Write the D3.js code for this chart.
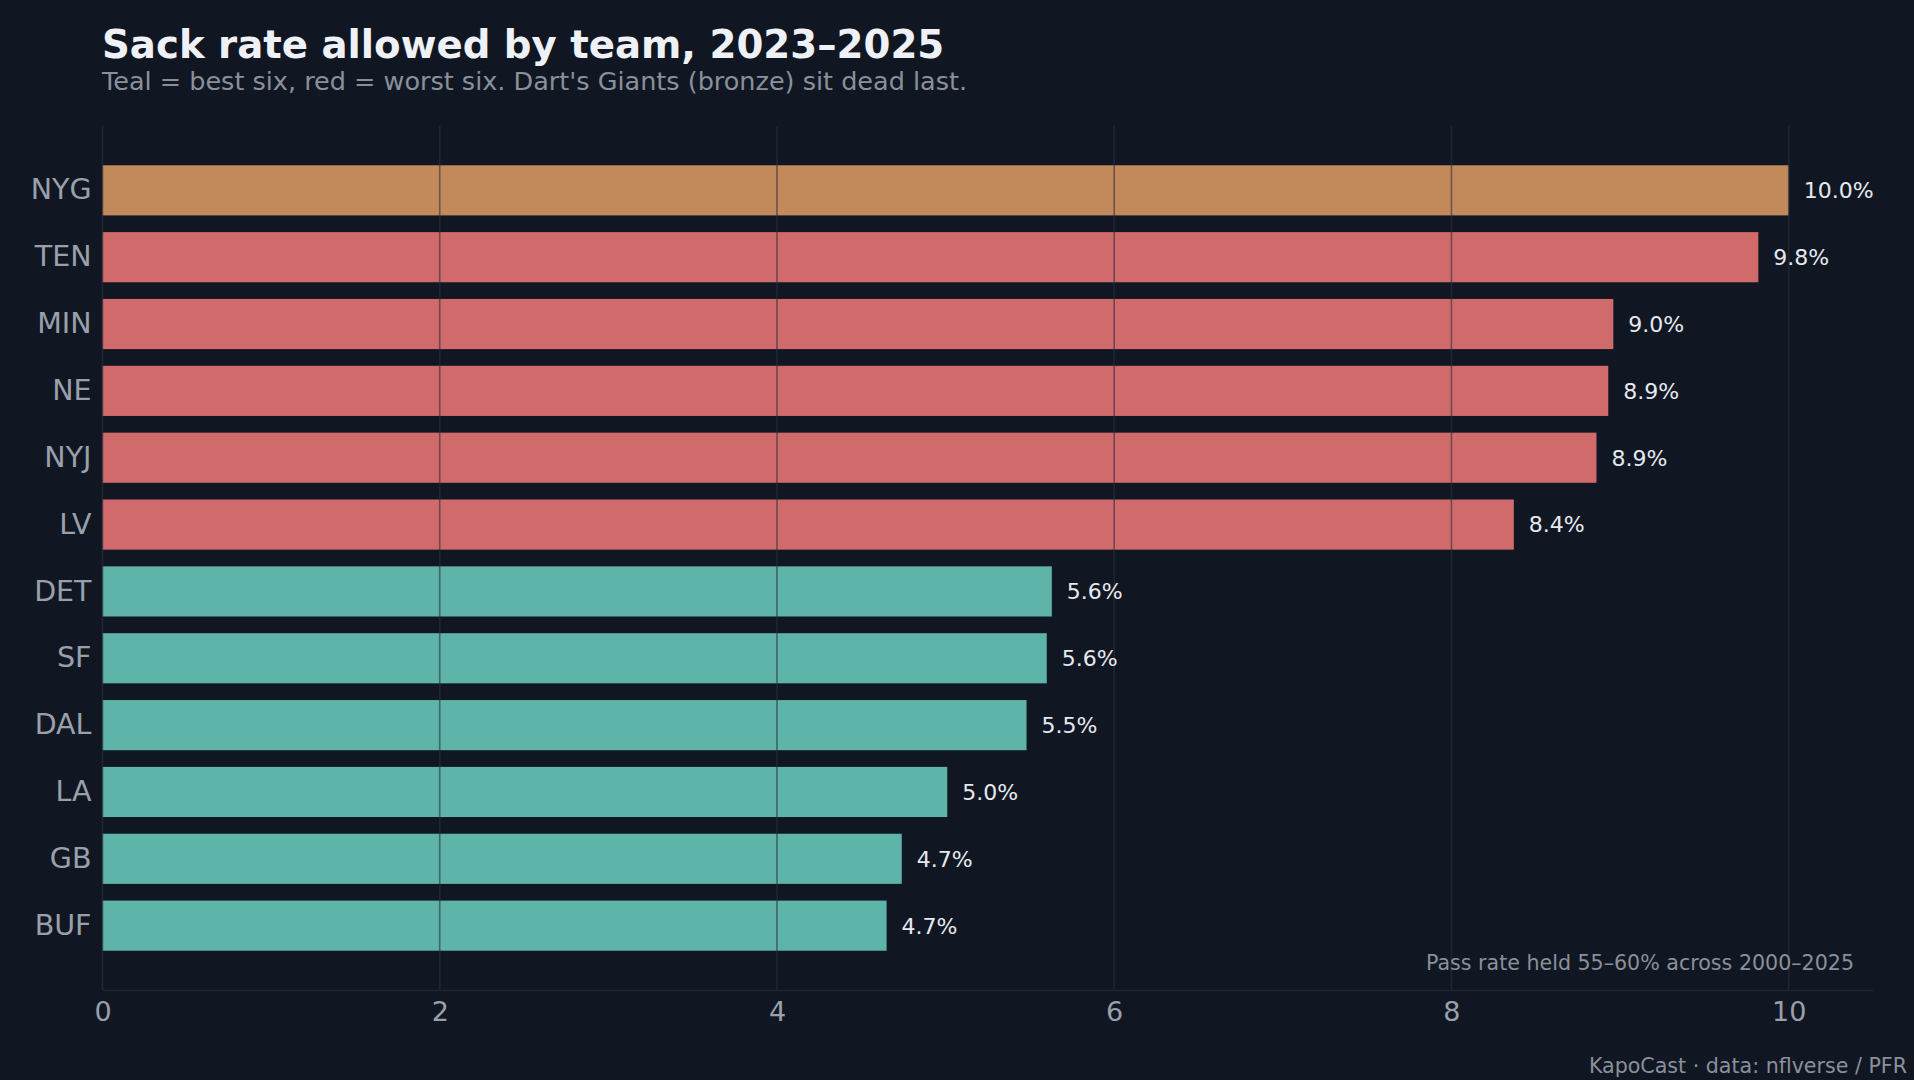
<!DOCTYPE html>
<html lang="en">
<head>
    <meta charset="UTF-8">
    <title>Sack rate allowed by team, 2023–2025</title>
    <script src="https://cdn.jsdelivr.net/npm/d3@7/dist/d3.min.js"></script>
    <style>
        html, body { margin: 0; padding: 0; background: #111722; }
        svg { display: block; font-family: "DejaVu Sans", sans-serif; }
    </style>
</head>
<body>
    <svg width="1914" height="1080" id="chart"></svg>
    <script>
        // data, top to bottom
        const teams = ["NYG", "TEN", "MIN", "NE", "NYJ", "LV", "DET", "SF", "DAL", "LA", "GB", "BUF"];
        const sackRate = [10.0, 9.82, 8.96, 8.93, 8.86, 8.37, 5.63, 5.60, 5.48, 5.01, 4.74, 4.65];
        const groups = ["giants", "worst", "worst", "worst", "worst", "worst", "best", "best", "best", "best", "best", "best"];
        const xTicks = [0, 2, 4, 6, 8, 10];

        const groupColor = {giants: "#c28a5a", worst: "#d16b6b", best: "#5fb4aa"};

        const svg = d3.select("#chart"),
              width = +svg.attr("width"),
              height = +svg.attr("height"),
              margin = {top: 126, right: 41, bottom: 90, left: 102.5};

        const x = d3.scaleLinear().domain([0, 10.5]).range([margin.left, width - margin.right]);
        const y = d3.scaleBand().domain(teams)
            .range([margin.top, height - margin.bottom])
            .paddingInner(0.25).paddingOuter(0.5875);

        const data = teams.map((t, i) => ({team: t, value: sackRate[i], group: groups[i]}));

        svg.append("rect").attr("width", width).attr("height", height).attr("fill", "#111722");

        // title
        svg.append("text")
            .attr("x", 102).attr("y", 57.5)
            .attr("font-size", 38.7).attr("font-weight", "bold")
            .attr("fill", "#eef1f6")
            .text("Sack rate allowed by team, 2023–2025");
        svg.append("text")
            .attr("x", 102).attr("y", 90)
            .attr("font-size", 25.5)
            .attr("fill", "#8a909b")
            .text("Teal = best six, red = worst six. Dart's Giants (bronze) sit dead last.");

        // bars
        svg.append("g").selectAll("rect")
            .data(data)
            .enter().append("rect")
            .attr("x", x(0))
            .attr("y", d => y(d.team))
            .attr("width", d => x(d.value) - x(0))
            .attr("height", y.bandwidth())
            .attr("fill", d => groupColor[d.group]);

        // grid on top of bars
        svg.append("g").selectAll("line")
            .data(xTicks)
            .enter().append("line")
            .attr("x1", d => x(d)).attr("x2", d => x(d))
            .attr("y1", margin.top).attr("y2", height - margin.bottom)
            .attr("stroke", "#2a3140")
            .attr("stroke-opacity", 0.6)
            .attr("stroke-width", 1.6);

        // x axis
        const xAxis = d3.axisBottom(x).tickValues(xTicks).tickSize(0).tickPadding(12).tickFormat(d3.format("d"));
        const xAxisG = svg.append("g")
            .attr("transform", `translate(0, ${height - margin.bottom})`)
            .call(xAxis);
        xAxisG.select(".domain").attr("stroke", "#1f2531").attr("stroke-width", 1.6);
        xAxisG.selectAll("text")
            .attr("font-size", 27)
            .attr("font-family", "DejaVu Sans, sans-serif")
            .attr("fill", "#9aa0ab");

        // y axis
        const yAxis = d3.axisLeft(y).tickSize(0).tickPadding(11);
        const yAxisG = svg.append("g")
            .attr("transform", `translate(${x(0)}, 0)`)
            .call(yAxis);
        yAxisG.select(".domain").remove();
        yAxisG.selectAll("text")
            .attr("font-size", 28.5)
            .attr("font-family", "DejaVu Sans, sans-serif")
            .attr("fill", "#9aa0ab");

        // value labels
        svg.append("g").selectAll("text")
            .data(data)
            .enter().append("text")
            .attr("x", d => x(d.value) + 15)
            .attr("y", d => y(d.team) + y.bandwidth() / 2)
            .attr("dy", "0.36em")
            .attr("font-size", 22)
            .attr("fill", "#e6e9ef")
            .text(d => d3.format(".1f")(d.value) + "%");

        // note inside the plot
        svg.append("text")
            .attr("x", 1854).attr("y", 970)
            .attr("text-anchor", "end")
            .attr("font-size", 20.6)
            .attr("fill", "#8a909b")
            .text("Pass rate held 55–60% across 2000–2025");

        // footer
        svg.append("text")
            .attr("x", 1907).attr("y", 1073)
            .attr("text-anchor", "end")
            .attr("font-size", 20.6)
            .attr("fill", "#8a909b")
            .text("KapoCast · data: nflverse / PFR");
    </script>
</body>
</html>
